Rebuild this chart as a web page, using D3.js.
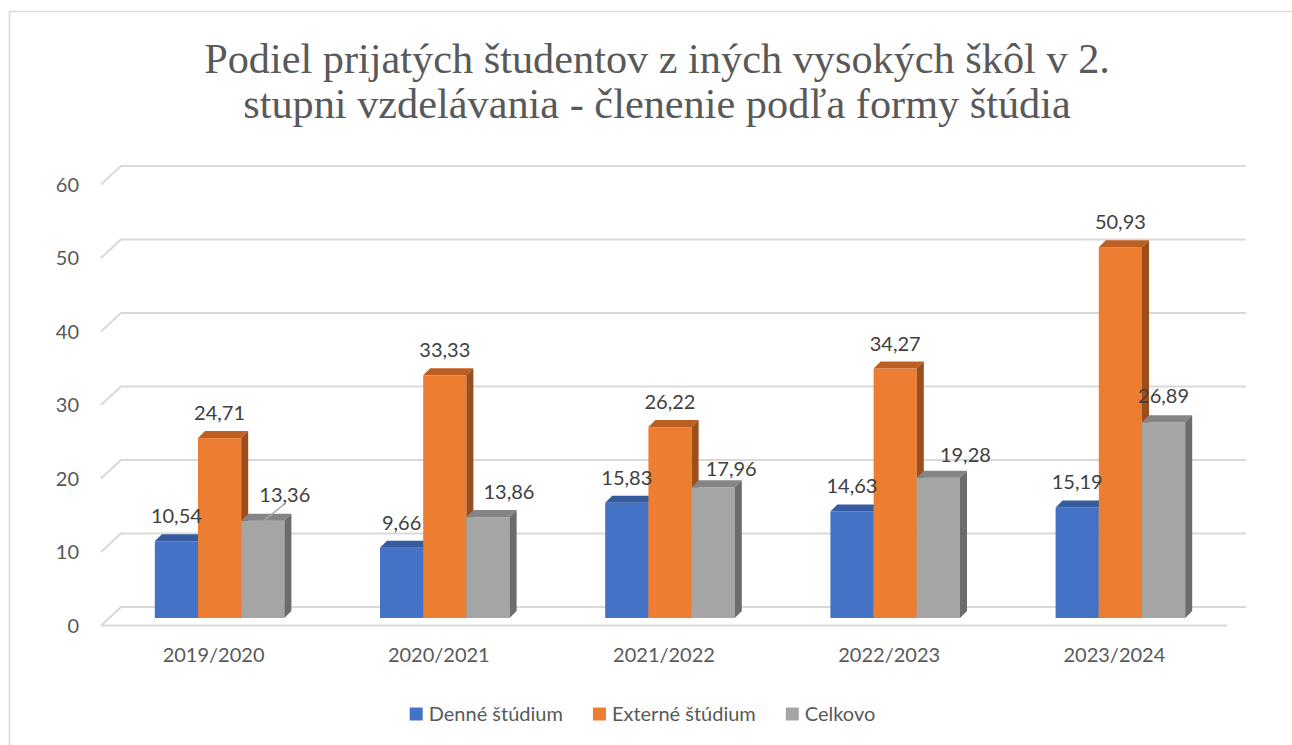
<!DOCTYPE html>
<html>
<head>
<meta charset="utf-8">
<script src="https://cdn.jsdelivr.net/npm/d3@7"></script>
<style>
  html, body { margin: 0; padding: 0; background: #fff; }
  svg { display: block; }
</style>
</head>
<body>
<svg id="chart" width="1292" height="745"></svg>
<script>
// data
const categories = ['2019/2020', '2020/2021', '2021/2022', '2022/2023', '2023/2024'];
const seriesNames = ['Denné štúdium', 'Externé štúdium', 'Celkovo'];
const denne = [10.54, 9.66, 15.83, 14.63, 15.19];
const externe = [24.71, 33.33, 26.22, 34.27, 50.93];
const celkovo = [13.36, 13.86, 17.96, 19.28, 26.89];
const yTicks = [0, 10, 20, 30, 40, 50, 60];
const titleLines = [
  'Podiel prijatých študentov z iných vysokých škôl v 2.',
  'stupni vzdelávania - členenie podľa formy štúdia'
];

// manual label nudges for the grey series (as moved in the original)
const grayLabelShift = [[22, -26], [21, -25], [18, -18], [27, -23], [0, -26]];

const seriesValues = [denne, externe, celkovo];

const svg = d3.select('svg#chart');

// No Magic Number !
const textColor = '#595959',
  labelColor = '#404040',
  gridColor = '#D9D9D9',
  fontFamily = 'Lato, "Open Sans", sans-serif',
  frontLeft = 101,
  frontRight = 1227,
  wallDx = 20,
  wallDy = 18.5,
  barShift = 6,
  barDepth = 7,
  barWidth = 43.2;

const faces = [
  { front: '#4472C4', top: '#365C9F', side: '#2E4F8C' },
  { front: '#ED7D31', top: '#BD5F22', side: '#9C4F1C' },
  { front: '#A5A5A5', top: '#858585', side: '#6C6C6C' }
];

// outer frame
svg.append('path')
  .attr('d', 'M9.5,745 L9.5,11.5 L1292,11.5')
  .attr('fill', 'none')
  .attr('stroke', gridColor)
  .attr('stroke-width', 1.5);

// title
const title = svg.append('text')
  .attr('text-anchor', 'middle')
  .attr('fill', textColor)
  .style('font-family', '"Liberation Serif", "DejaVu Serif", serif')
  .style('font-size', '38px');
title.selectAll('tspan')
  .data(titleLines)
  .join('tspan')
  .attr('x', 657)
  .attr('y', (d, i) => 73 + i * 45)
  .text(d => d);

// fit the first title line to the original width
const firstLen = title.select('tspan').node().getComputedTextLength();
title.style('font-size', (38 * 905 / firstLen).toFixed(1) + 'px');

// scales
const yWall = d3.scaleLinear().domain([0, 60]).range([607, 166]);
const yBar = d3.scaleLinear().domain([0, 60]).range([618, 618 - 60 * 7.28]);
const xBand = d3.scaleBand().domain(categories).range([frontLeft, frontRight]);
const xInner = d3.scaleBand().domain(seriesNames).range([-1.5 * barWidth, 1.5 * barWidth]);

// gridlines on the back wall + diagonal to the front
yTicks.forEach(function(t) {
  const yb = yWall(t);
  svg.append('path')
    .attr('d', `M${frontLeft},${yb + wallDy} L${frontLeft + wallDx},${yb} L${frontRight + wallDx - 1},${yb}`)
    .attr('fill', 'none')
    .attr('stroke', gridColor)
    .attr('stroke-width', 2);
});
// front floor edge
svg.append('line')
  .attr('x1', frontLeft).attr('x2', frontRight)
  .attr('y1', yWall(0) + wallDy).attr('y2', yWall(0) + wallDy)
  .attr('stroke', gridColor)
  .attr('stroke-width', 2);

// y axis labels
svg.append('g')
  .selectAll('text')
  .data(yTicks)
  .join('text')
  .attr('x', 79)
  .attr('y', d => yWall(d) + wallDy)
  .attr('dy', '0.35em')
  .attr('text-anchor', 'end')
  .attr('fill', textColor)
  .style('font-family', fontFamily)
  .style('font-size', '20px')
  .text(d => d);

// category labels
svg.append('g')
  .selectAll('text')
  .data(categories)
  .join('text')
  .attr('x', d => xBand(d) + xBand.bandwidth() / 2)
  .attr('y', 655)
  .attr('dy', '0.35em')
  .attr('text-anchor', 'middle')
  .attr('fill', textColor)
  .style('font-family', fontFamily)
  .style('font-size', '20px')
  .text(d => d);

// bars
const fmt = v => v.toFixed(2).replace('.', ',');
const barLayer = svg.append('g');
const labelLayer = svg.append('g');

categories.forEach(function(cat, ci) {
  const cx = xBand(cat) + xBand.bandwidth() / 2 + barShift;
  seriesNames.forEach(function(name, si) {
    const v = seriesValues[si][ci];
    const x0 = cx + xInner(name);
    const yt = yBar(v);
    const y0 = yBar(0);
    const c = faces[si];
    const g = barLayer.append('g');

    g.append('rect')
      .attr('x', x0).attr('y', yt)
      .attr('width', barWidth).attr('height', y0 - yt)
      .attr('fill', c.front);
    g.append('path')
      .attr('d', `M${x0},${yt} L${x0 + barDepth},${yt - barDepth} L${x0 + barWidth + barDepth},${yt - barDepth} L${x0 + barWidth},${yt} Z`)
      .attr('fill', c.top);
    g.append('path')
      .attr('d', `M${x0 + barWidth},${yt} L${x0 + barWidth + barDepth},${yt - barDepth} L${x0 + barWidth + barDepth},${y0 - barDepth} L${x0 + barWidth},${y0} Z`)
      .attr('fill', c.side);

    let dx = 0, dy = -25;
    if (si === 2) {
      dx = grayLabelShift[ci][0];
      dy = grayLabelShift[ci][1];
    }
    const lx = x0 + barWidth / 2 + dx;
    const ly = yt + dy;

    // leader line for the label that was dragged far from its bar
    if (si === 2 && ci === 0) {
      labelLayer.append('line')
        .attr('x1', x0 + barWidth / 2 + 1).attr('y1', yt)
        .attr('x2', lx).attr('y2', ly + 9)
        .attr('stroke', '#A6A6A6')
        .attr('stroke-width', 1.5);
    }

    labelLayer.append('text')
      .attr('x', lx)
      .attr('y', ly)
      .attr('dy', '0.35em')
      .attr('text-anchor', 'middle')
      .attr('fill', labelColor)
      .style('font-family', fontFamily)
      .style('font-size', '20px')
      .text(fmt(v));
  });
});

// legend
const legend = svg.append('g');
let lx = 0;
seriesNames.forEach(function(name, i) {
  const item = legend.append('g').attr('transform', `translate(${lx},0)`);
  item.append('rect')
    .attr('x', 0).attr('y', 707.5)
    .attr('width', 13).attr('height', 13)
    .attr('fill', faces[i].front);
  const t = item.append('text')
    .attr('x', 19)
    .attr('y', 714)
    .attr('dy', '0.35em')
    .attr('fill', textColor)
    .style('font-family', fontFamily)
    .style('font-size', '20px')
    .text(name);
  lx += 19 + t.node().getComputedTextLength() + 30;
});
const legendWidth = lx - 30;
legend.attr('transform', `translate(${642.5 - legendWidth / 2},0)`);
</script>
</body>
</html>
